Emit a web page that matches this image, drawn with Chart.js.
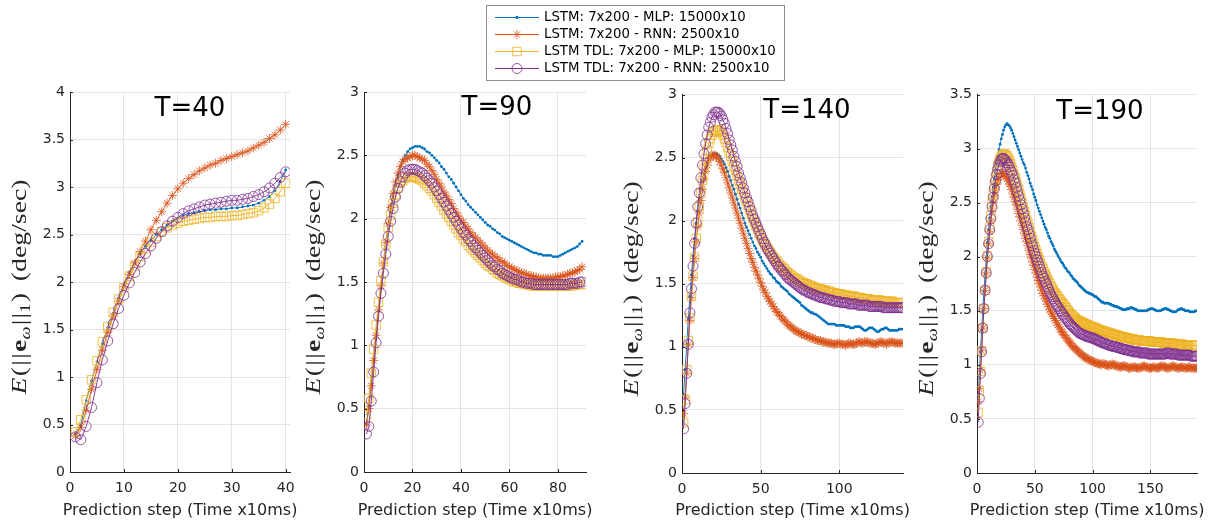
<!DOCTYPE html>
<html>
<head>
<meta charset="utf-8">
<script src="https://cdn.jsdelivr.net/npm/chart.js@4"></script>
<style>
  html, body { margin: 0; padding: 0; background: #ffffff; }
  #wrap { position: relative; width: 1216px; height: 521px; overflow: hidden; background: #ffffff; }
  #wrap canvas { position: absolute; left: 0; top: 0; }
</style>
</head>
<body>
<div id="wrap">
  <canvas id="p40" width="1216" height="521"></canvas>
  <canvas id="p90" width="1216" height="521"></canvas>
  <canvas id="p140" width="1216" height="521"></canvas>
  <canvas id="p190" width="1216" height="521"></canvas>
</div>
<script>
// ---- series names (legend) ----
const seriesNames = [
  'LSTM: 7x200 - MLP: 15000x10',
  'LSTM: 7x200 - RNN: 2500x10',
  'LSTM TDL: 7x200 - MLP: 15000x10',
  'LSTM TDL: 7x200 - RNN: 2500x10'
];
const panelTitles = ['T=40', 'T=90', 'T=140', 'T=190'];
const xAxisTitle = 'Prediction step (Time x10ms)';

// ---- T=40 (steps 1..40) ----
const mlp40 = [0.40,0.49,0.75,0.96,1.16,1.35,1.52,1.67,1.83,1.98,
  2.10,2.21,2.30,2.38,2.44,2.50,2.55,2.60,2.64,2.67,
  2.70,2.72,2.73,2.74,2.75,2.76,2.76,2.77,2.77,2.78,
  2.78,2.79,2.80,2.81,2.83,2.86,2.90,2.96,3.06,3.18];
const rnn40 = [0.38,0.47,0.65,0.87,1.08,1.28,1.47,1.64,1.80,1.95,
  2.08,2.20,2.32,2.43,2.55,2.65,2.74,2.83,2.91,2.98,
  3.04,3.09,3.13,3.17,3.20,3.23,3.25,3.28,3.30,3.32,
  3.34,3.36,3.38,3.41,3.44,3.47,3.51,3.55,3.60,3.66];
const tdlMlp40 = [0.42,0.55,0.76,0.97,1.17,1.37,1.53,1.68,1.82,1.94,
  2.06,2.17,2.27,2.35,2.42,2.48,2.53,2.57,2.60,2.62,
  2.64,2.65,2.66,2.67,2.68,2.68,2.69,2.69,2.69,2.70,
  2.70,2.71,2.72,2.73,2.75,2.78,2.82,2.88,2.95,3.04];
const tdlRnn40 = [0.37,0.34,0.48,0.68,0.94,1.18,1.38,1.56,1.72,1.86,
  1.99,2.10,2.21,2.30,2.38,2.46,2.53,2.59,2.64,2.68,
  2.72,2.75,2.77,2.79,2.81,2.82,2.83,2.84,2.85,2.86,
  2.86,2.87,2.88,2.90,2.92,2.95,2.99,3.04,3.10,3.16];

// ---- T=90 (steps 1..90) ----
const mlp90 = [0.38,0.52,0.70,0.89,1.08,1.27,1.45,1.62,1.78,1.92,
  2.05,2.16,2.26,2.34,2.41,2.46,2.50,2.53,2.55,2.56,
  2.57,2.57,2.57,2.56,2.55,2.53,2.52,2.50,2.48,2.46,
  2.44,2.41,2.39,2.36,2.33,2.31,2.28,2.25,2.22,2.19,
  2.16,2.14,2.11,2.09,2.07,2.05,2.03,2.01,1.99,1.97,
  1.95,1.94,1.92,1.91,1.89,1.88,1.86,1.85,1.84,1.83,
  1.82,1.81,1.80,1.79,1.78,1.77,1.76,1.75,1.74,1.73,
  1.73,1.72,1.72,1.71,1.71,1.71,1.71,1.70,1.70,1.70,
  1.71,1.72,1.73,1.74,1.75,1.76,1.77,1.78,1.80,1.82];
const rnn90 = [0.37,0.50,0.68,0.88,1.08,1.28,1.47,1.65,1.81,1.96,
  2.09,2.20,2.29,2.36,2.41,2.45,2.47,2.48,2.49,2.50,
  2.50,2.49,2.48,2.47,2.46,2.43,2.41,2.38,2.35,2.31,
  2.28,2.25,2.21,2.18,2.15,2.12,2.08,2.05,2.02,1.99,
  1.97,1.94,1.92,1.89,1.87,1.85,1.83,1.81,1.79,1.77,
  1.75,1.73,1.72,1.70,1.69,1.67,1.66,1.65,1.63,1.62,
  1.61,1.60,1.59,1.58,1.57,1.57,1.56,1.55,1.55,1.54,
  1.54,1.53,1.53,1.53,1.53,1.53,1.53,1.53,1.54,1.54,
  1.54,1.55,1.55,1.56,1.57,1.57,1.58,1.59,1.60,1.62];
const tdlMlp90 = [0.45,0.58,0.78,0.97,1.16,1.34,1.51,1.66,1.80,1.93,
  2.03,2.12,2.19,2.24,2.28,2.30,2.32,2.33,2.33,2.33,
  2.33,2.32,2.31,2.30,2.28,2.26,2.24,2.22,2.19,2.16,
  2.13,2.10,2.07,2.04,2.01,1.98,1.95,1.92,1.89,1.87,
  1.84,1.82,1.79,1.77,1.75,1.73,1.71,1.69,1.67,1.65,
  1.63,1.62,1.60,1.59,1.57,1.56,1.55,1.54,1.53,1.52,
  1.51,1.50,1.50,1.49,1.49,1.48,1.48,1.48,1.47,1.47,
  1.47,1.47,1.47,1.47,1.47,1.47,1.47,1.47,1.47,1.47,
  1.47,1.47,1.47,1.47,1.47,1.47,1.48,1.48,1.48,1.48];
const tdlRnn90 = [0.30,0.36,0.56,0.79,1.02,1.23,1.41,1.57,1.72,1.86,
  1.98,2.08,2.17,2.24,2.29,2.33,2.36,2.38,2.39,2.39,
  2.39,2.38,2.37,2.36,2.34,2.32,2.30,2.28,2.25,2.22,
  2.19,2.16,2.13,2.10,2.07,2.04,2.01,1.98,1.95,1.92,
  1.89,1.87,1.84,1.82,1.79,1.77,1.75,1.73,1.71,1.69,
  1.67,1.65,1.63,1.62,1.60,1.59,1.57,1.56,1.55,1.54,
  1.53,1.52,1.52,1.51,1.50,1.50,1.49,1.49,1.49,1.48,
  1.48,1.48,1.48,1.48,1.48,1.48,1.48,1.48,1.48,1.48,
  1.48,1.48,1.48,1.48,1.49,1.49,1.49,1.49,1.50,1.50];

// ---- T=140 (steps 1..140) ----
const mlp140 = [0.62,0.82,1.02,1.22,1.40,1.57,1.72,1.86,1.98,2.08,
  2.17,2.25,2.32,2.38,2.42,2.46,2.49,2.51,2.52,2.53,
  2.53,2.53,2.52,2.51,2.49,2.47,2.45,2.42,2.39,2.35,
  2.32,2.28,2.25,2.21,2.17,2.13,2.10,2.06,2.02,1.98,
  1.95,1.92,1.89,1.86,1.83,1.80,1.78,1.75,1.73,1.71,
  1.68,1.66,1.64,1.62,1.60,1.58,1.57,1.55,1.54,1.52,
  1.51,1.50,1.48,1.47,1.46,1.45,1.44,1.42,1.41,1.40,
  1.39,1.38,1.37,1.36,1.35,1.33,1.32,1.31,1.30,1.29,
  1.28,1.27,1.27,1.26,1.26,1.25,1.24,1.23,1.22,1.21,
  1.20,1.19,1.18,1.18,1.18,1.18,1.18,1.17,1.17,1.17,
  1.17,1.17,1.17,1.16,1.16,1.16,1.15,1.15,1.15,1.16,
  1.16,1.16,1.16,1.15,1.14,1.13,1.13,1.14,1.15,1.15,
  1.15,1.14,1.13,1.12,1.12,1.13,1.14,1.14,1.15,1.15,
  1.14,1.13,1.13,1.13,1.13,1.13,1.13,1.14,1.14,1.14];
const rnn140 = [0.47,0.60,0.79,1.02,1.21,1.39,1.55,1.70,1.83,1.95,
  2.06,2.16,2.25,2.33,2.39,2.44,2.48,2.50,2.52,2.52,
  2.52,2.51,2.49,2.47,2.44,2.41,2.38,2.34,2.30,2.26,
  2.22,2.18,2.14,2.10,2.06,2.02,1.98,1.94,1.90,1.86,
  1.82,1.78,1.74,1.70,1.67,1.63,1.60,1.57,1.54,1.51,
  1.48,1.45,1.43,1.40,1.38,1.36,1.34,1.32,1.30,1.28,
  1.27,1.25,1.24,1.22,1.21,1.20,1.18,1.17,1.16,1.15,
  1.14,1.13,1.12,1.12,1.11,1.10,1.10,1.09,1.09,1.08,
  1.08,1.07,1.07,1.06,1.06,1.05,1.05,1.05,1.04,1.04,
  1.04,1.03,1.03,1.03,1.03,1.02,1.02,1.02,1.03,1.03,
  1.02,1.02,1.02,1.01,1.02,1.03,1.03,1.02,1.02,1.02,
  1.03,1.04,1.04,1.03,1.03,1.04,1.04,1.04,1.03,1.03,
  1.03,1.02,1.02,1.03,1.03,1.04,1.04,1.03,1.03,1.02,
  1.03,1.04,1.04,1.04,1.03,1.03,1.03,1.03,1.03,1.03];
const tdlMlp140 = [0.40,0.58,0.82,1.05,1.23,1.40,1.56,1.71,1.86,1.99,
  2.11,2.22,2.32,2.41,2.49,2.56,2.61,2.65,2.68,2.70,
  2.71,2.72,2.72,2.71,2.70,2.68,2.65,2.62,2.58,2.54,
  2.51,2.47,2.43,2.40,2.36,2.32,2.29,2.25,2.22,2.18,
  2.15,2.12,2.08,2.05,2.02,1.99,1.96,1.93,1.90,1.88,
  1.85,1.83,1.81,1.79,1.77,1.75,1.73,1.71,1.70,1.68,
  1.67,1.65,1.64,1.63,1.62,1.60,1.59,1.58,1.57,1.56,
  1.55,1.54,1.54,1.53,1.52,1.51,1.51,1.50,1.50,1.49,
  1.49,1.48,1.48,1.47,1.47,1.46,1.46,1.46,1.45,1.45,
  1.45,1.44,1.44,1.44,1.43,1.43,1.43,1.42,1.42,1.42,
  1.42,1.41,1.41,1.41,1.41,1.40,1.40,1.40,1.40,1.40,
  1.39,1.39,1.39,1.39,1.38,1.38,1.38,1.38,1.38,1.37,
  1.37,1.37,1.37,1.37,1.37,1.37,1.36,1.36,1.36,1.36,
  1.36,1.36,1.36,1.36,1.35,1.35,1.35,1.35,1.35,1.35];
const tdlRnn140 = [0.35,0.55,0.79,1.02,1.27,1.46,1.64,1.82,1.98,2.11,
  2.22,2.34,2.44,2.53,2.61,2.68,2.74,2.78,2.82,2.84,
  2.86,2.86,2.86,2.85,2.83,2.80,2.77,2.73,2.69,2.64,
  2.60,2.56,2.51,2.47,2.43,2.38,2.34,2.30,2.26,2.22,
  2.18,2.15,2.11,2.08,2.04,2.01,1.98,1.95,1.92,1.89,
  1.86,1.83,1.81,1.78,1.76,1.74,1.72,1.70,1.68,1.66,
  1.64,1.63,1.61,1.60,1.58,1.57,1.55,1.54,1.53,1.52,
  1.51,1.50,1.49,1.48,1.47,1.46,1.45,1.45,1.44,1.43,
  1.43,1.42,1.42,1.41,1.41,1.40,1.40,1.39,1.39,1.39,
  1.38,1.38,1.38,1.37,1.37,1.37,1.36,1.36,1.36,1.36,
  1.35,1.35,1.35,1.35,1.35,1.34,1.34,1.34,1.34,1.34,
  1.34,1.33,1.33,1.33,1.33,1.33,1.33,1.33,1.32,1.32,
  1.32,1.32,1.32,1.32,1.32,1.32,1.32,1.31,1.31,1.31,
  1.31,1.31,1.31,1.31,1.31,1.31,1.31,1.31,1.31,1.31];

// ---- T=190 (steps 1..190) ----
const mlp190 = [0.68,0.90,1.12,1.32,1.50,1.68,1.84,1.99,2.13,2.25,
  2.36,2.46,2.55,2.64,2.72,2.80,2.87,2.93,2.99,3.04,
  3.09,3.13,3.17,3.20,3.22,3.23,3.22,3.21,3.19,3.17,
  3.14,3.11,3.08,3.05,3.02,2.99,2.96,2.93,2.90,2.87,
  2.85,2.82,2.78,2.75,2.72,2.68,2.65,2.62,2.58,2.55,
  2.52,2.48,2.45,2.42,2.39,2.36,2.33,2.30,2.27,2.25,
  2.22,2.19,2.17,2.14,2.12,2.10,2.07,2.05,2.03,2.01,
  1.99,1.97,1.95,1.94,1.92,1.90,1.89,1.87,1.86,1.85,
  1.83,1.82,1.80,1.79,1.78,1.77,1.76,1.74,1.73,1.72,
  1.71,1.70,1.69,1.68,1.67,1.67,1.66,1.66,1.65,1.65,
  1.64,1.63,1.63,1.62,1.61,1.60,1.59,1.58,1.58,1.57,
  1.57,1.57,1.57,1.57,1.56,1.56,1.55,1.55,1.54,1.54,
  1.54,1.53,1.53,1.52,1.52,1.51,1.51,1.51,1.51,1.52,
  1.52,1.52,1.53,1.53,1.52,1.52,1.51,1.51,1.50,1.50,
  1.50,1.50,1.50,1.50,1.50,1.50,1.50,1.51,1.51,1.52,
  1.52,1.52,1.51,1.51,1.50,1.50,1.50,1.50,1.50,1.51,
  1.51,1.52,1.52,1.52,1.51,1.51,1.50,1.50,1.49,1.49,
  1.49,1.49,1.50,1.51,1.51,1.52,1.52,1.51,1.51,1.50,
  1.50,1.50,1.50,1.49,1.49,1.49,1.49,1.49,1.50,1.50];
const rnn190 = [0.66,0.78,0.95,1.13,1.34,1.52,1.69,1.85,1.99,2.12,
  2.23,2.33,2.42,2.50,2.57,2.62,2.67,2.71,2.74,2.76,
  2.77,2.77,2.77,2.76,2.74,2.72,2.70,2.67,2.65,2.62,
  2.58,2.55,2.51,2.48,2.44,2.40,2.37,2.33,2.29,2.25,
  2.21,2.17,2.14,2.10,2.06,2.02,1.99,1.95,1.92,1.88,
  1.85,1.81,1.78,1.75,1.72,1.69,1.66,1.64,1.61,1.59,
  1.56,1.54,1.51,1.49,1.47,1.45,1.43,1.41,1.39,1.37,
  1.35,1.33,1.31,1.30,1.28,1.27,1.25,1.24,1.22,1.21,
  1.20,1.18,1.17,1.16,1.15,1.14,1.13,1.12,1.11,1.10,
  1.09,1.08,1.07,1.07,1.06,1.05,1.05,1.04,1.04,1.03,
  1.03,1.02,1.02,1.01,1.01,1.01,1.00,1.01,1.01,1.01,
  1.00,1.00,0.99,0.99,1.00,1.00,1.01,1.00,1.00,0.99,
  0.99,0.99,0.98,0.98,0.98,0.99,0.99,0.99,0.98,0.98,
  0.97,0.97,0.97,0.98,0.98,0.98,0.98,0.97,0.97,0.97,
  0.97,0.98,0.98,0.99,0.99,0.98,0.98,0.97,0.97,0.97,
  0.97,0.98,0.98,0.98,0.97,0.97,0.97,0.98,0.99,0.99,
  0.99,0.98,0.98,0.97,0.97,0.97,0.98,0.98,0.99,0.99,
  0.98,0.98,0.97,0.97,0.97,0.98,0.98,0.98,0.97,0.97,
  0.97,0.97,0.98,0.98,0.97,0.97,0.97,0.97,0.97,0.97];
const tdlMlp190 = [0.56,0.76,0.94,1.13,1.34,1.52,1.69,1.86,2.01,2.14,
  2.27,2.38,2.49,2.58,2.66,2.73,2.79,2.84,2.88,2.91,
  2.93,2.94,2.95,2.95,2.94,2.93,2.91,2.89,2.86,2.83,
  2.80,2.76,2.73,2.69,2.65,2.62,2.58,2.54,2.50,2.46,
  2.42,2.38,2.34,2.31,2.27,2.23,2.19,2.16,2.12,2.09,
  2.06,2.03,2.00,1.97,1.94,1.91,1.89,1.86,1.84,1.82,
  1.79,1.77,1.75,1.73,1.71,1.69,1.67,1.66,1.64,1.63,
  1.61,1.60,1.58,1.57,1.56,1.54,1.53,1.51,1.50,1.48,
  1.47,1.46,1.45,1.44,1.43,1.42,1.41,1.41,1.40,1.40,
  1.39,1.39,1.38,1.38,1.37,1.37,1.36,1.36,1.35,1.35,
  1.35,1.34,1.34,1.33,1.33,1.32,1.32,1.32,1.31,1.31,
  1.31,1.30,1.30,1.30,1.29,1.29,1.29,1.28,1.28,1.28,
  1.27,1.27,1.27,1.26,1.26,1.26,1.26,1.25,1.25,1.25,
  1.25,1.24,1.24,1.24,1.24,1.23,1.23,1.23,1.23,1.23,
  1.23,1.22,1.22,1.22,1.22,1.22,1.22,1.22,1.22,1.22,
  1.21,1.21,1.21,1.21,1.21,1.21,1.21,1.21,1.21,1.21,
  1.20,1.20,1.20,1.20,1.20,1.20,1.20,1.20,1.20,1.20,
  1.19,1.19,1.19,1.19,1.19,1.19,1.19,1.19,1.18,1.18,
  1.18,1.18,1.18,1.18,1.18,1.18,1.18,1.18,1.18,1.18];
const tdlRnn190 = [0.47,0.69,0.92,1.12,1.34,1.52,1.69,1.85,2.00,2.12,
  2.25,2.35,2.46,2.55,2.63,2.70,2.76,2.81,2.85,2.88,
  2.90,2.91,2.91,2.90,2.89,2.87,2.85,2.83,2.80,2.78,
  2.75,2.71,2.68,2.64,2.60,2.56,2.52,2.48,2.44,2.40,
  2.36,2.32,2.28,2.25,2.21,2.17,2.13,2.10,2.06,2.03,
  2.00,1.97,1.94,1.91,1.88,1.85,1.82,1.80,1.77,1.75,
  1.72,1.70,1.67,1.65,1.63,1.61,1.59,1.57,1.55,1.54,
  1.52,1.50,1.49,1.47,1.46,1.44,1.43,1.41,1.40,1.38,
  1.37,1.36,1.35,1.34,1.33,1.32,1.31,1.30,1.29,1.29,
  1.28,1.28,1.27,1.27,1.26,1.26,1.26,1.25,1.25,1.25,
  1.24,1.24,1.23,1.23,1.22,1.22,1.21,1.21,1.20,1.20,
  1.20,1.19,1.19,1.18,1.18,1.18,1.17,1.17,1.17,1.17,
  1.16,1.16,1.16,1.15,1.15,1.15,1.14,1.14,1.14,1.14,
  1.13,1.13,1.13,1.13,1.12,1.12,1.12,1.12,1.12,1.12,
  1.11,1.11,1.11,1.11,1.11,1.11,1.11,1.10,1.10,1.10,
  1.10,1.10,1.10,1.10,1.10,1.10,1.10,1.10,1.10,1.10,
  1.10,1.10,1.10,1.11,1.11,1.11,1.10,1.10,1.10,1.10,
  1.10,1.10,1.10,1.09,1.09,1.09,1.09,1.09,1.09,1.09,
  1.09,1.09,1.09,1.09,1.08,1.08,1.08,1.08,1.08,1.08];

// ---- axis ranges and ticks per panel ----
const yMaxes = [4, 3, 3, 3.5];
const xMaxes = [40.8, 91.6, 140.5, 190.3];
const xSteps = [10, 20, 50, 50];

// ---- styling / layout ----
const W = 1216, H = 521;
const COLORS = ['#0072BD', '#D95319', '#EDB120', '#7E2F8E'];
const TEXT = '#262626';
const GRID = '#e4e4e4';
const FONT = '"DejaVu Sans", "Noto Sans", sans-serif';
const SERIF = '"Liberation Serif", "DejaVu Serif", serif';
const Y_AXIS_W = 40;
const X_AXIS_H = 40;
const Y_LABEL_LEN = 215;   // length of the rotated y-axis label along the axis

const boxes = [
  { left: 70,  top: 92,   right: 290,  bottom: 472 },
  { left: 364, top: 92,   right: 586,  bottom: 472 },
  { left: 682, top: 94.5, right: 903,  bottom: 473 },
  { left: 977, top: 94.5, right: 1197, bottom: 473 }
];
const titleAnchors = [
  { x: 190, y: 116 },
  { x: 497, y: 115 },
  { x: 807, y: 118 },
  { x: 1100, y: 119 }
];

function pointStyleFor(i) {
  return [
    { pointStyle: 'circle', pointRadius: 1.4, pointBackgroundColor: COLORS[0], pointBorderWidth: 0 },
    { pointStyle: 'star',   pointRadius: 4.5, pointBackgroundColor: 'transparent', pointBorderWidth: 0.8 },
    { pointStyle: 'rect',   pointRadius: 6,   pointBackgroundColor: 'transparent', pointBorderWidth: 0.8 },
    { pointStyle: 'circle', pointRadius: 5,   pointBackgroundColor: 'transparent', pointBorderWidth: 0.8 }
  ][i];
}

function makeDatasets(arrs) {
  return arrs.map((arr, i) => Object.assign({
    label: seriesNames[i],
    data: arr.map((v, k) => ({ x: k + 1, y: v })),
    borderColor: COLORS[i],
    pointBorderColor: COLORS[i],
    borderWidth: 0.9,
    tension: 0,
    fill: false,
    order: 3 - i
  }, pointStyleFor(i)));
}

// y-axis label: E(||e_w||_1) (deg/sec), set in a math-like serif style
function drawYLabel(ctx, x, cy) {
  const s = 21;
  const sub = 14;
  const parts = [
    { t: 'E', f: `italic ${s}px ${SERIF}`, gap: 1 },
    { t: '(', f: `${s}px ${SERIF}`, gap: 1 },
    { t: '|', f: `${s}px ${SERIF}`, gap: 1 },
    { t: '|', f: `${s}px ${SERIF}`, gap: 1 },
    { t: 'e', f: `bold ${s}px ${SERIF}` },
    { t: 'ω', f: `italic ${sub}px ${SERIF}`, dy: 4, gap: 1 },
    { t: '|', f: `${s}px ${SERIF}`, gap: 1 },
    { t: '|', f: `${s}px ${SERIF}` },
    { t: '1', f: `${sub}px ${SERIF}`, dy: 4, gap: 1 },
    { t: ')', f: `${s}px ${SERIF}`, gap: 9 },
    { t: '(deg/sec)', f: `${s}px ${SERIF}` }
  ];
  ctx.save();
  let total = 0;
  parts.forEach(p => { ctx.font = p.f; p.w = ctx.measureText(p.t).width + (p.gap || 0); total += p.w; });
  const k = Y_LABEL_LEN / total;
  ctx.translate(x, cy);
  ctx.rotate(-Math.PI / 2);
  ctx.scale(k, 1);
  ctx.fillStyle = TEXT;
  ctx.textBaseline = 'alphabetic';
  ctx.textAlign = 'left';
  let cx = -total / 2;
  parts.forEach(p => { ctx.font = p.f; ctx.fillText(p.t, cx, p.dy || 0); cx += p.w; });
  ctx.restore();
}

const decorPlugin = {
  id: 'decor',
  afterDraw(chart, args, opts) {
    const ctx = chart.ctx;
    const a = chart.chartArea;
    const xs = chart.scales.x, ys = chart.scales.y;
    ctx.save();
    // inward tick marks
    ctx.strokeStyle = TEXT;
    ctx.lineWidth = 1;
    ctx.beginPath();
    xs.ticks.forEach(t => {
      const px = Math.round(xs.getPixelForValue(t.value)) + 0.5;
      ctx.moveTo(px, a.bottom); ctx.lineTo(px, a.bottom - 3);
    });
    ys.ticks.forEach(t => {
      const py = Math.round(ys.getPixelForValue(t.value)) + 0.5;
      ctx.moveTo(a.left, py); ctx.lineTo(a.left + 3, py);
    });
    ctx.stroke();
    // panel title
    ctx.fillStyle = '#000000';
    ctx.font = `26px ${FONT}`;
    ctx.textAlign = 'center';
    ctx.textBaseline = 'alphabetic';
    ctx.fillText(opts.title, opts.titleX, opts.titleY);
    // x-axis title
    ctx.fillStyle = TEXT;
    ctx.font = `16px ${FONT}`;
    ctx.fillText(xAxisTitle, (a.left + a.right) / 2, 515);
    ctx.restore();
    // y-axis title
    drawYLabel(ctx, a.left - 44, (a.top + a.bottom) / 2 + 5);
  }
};

// legend box shared by all panels
const legendPlugin = {
  id: 'figLegend',
  afterDraw(chart, args, opts) {
    if (!opts.show) return;
    const ctx = chart.ctx;
    const bx = 486.5, by = 5.5, bw = 298, bh = 75;
    ctx.save();
    ctx.fillStyle = '#ffffff';
    ctx.fillRect(bx, by, bw, bh);
    ctx.strokeStyle = '#8c8c8c';
    ctx.lineWidth = 1;
    ctx.strokeRect(bx, by, bw, bh);
    const rows = [17, 34, 51, 68];
    chart.data.datasets.forEach((ds, i) => {
      const y = rows[i];
      ctx.strokeStyle = ds.borderColor;
      ctx.lineWidth = 1;
      ctx.beginPath();
      ctx.moveTo(495, y + 0.5); ctx.lineTo(539, y + 0.5);
      ctx.stroke();
      ctx.lineWidth = ds.pointBorderWidth || 1;
      ctx.fillStyle = ds.pointBackgroundColor;
      Chart.helpers.drawPoint(ctx, {
        pointStyle: ds.pointStyle,
        radius: ds.pointRadius,
        borderWidth: ds.pointBorderWidth,
        rotation: 0
      }, 517, y + 0.5);
      if (ds.pointBackgroundColor !== 'transparent') ctx.fill();
      ctx.fillStyle = '#000000';
      ctx.font = `13.3px ${FONT}`;
      ctx.textAlign = 'left';
      ctx.textBaseline = 'middle';
      ctx.fillText(seriesNames[i], 544, y + 1);
    });
    ctx.restore();
  }
};

const panelData = [
  [mlp40, rnn40, tdlMlp40, tdlRnn40],
  [mlp90, rnn90, tdlMlp90, tdlRnn90],
  [mlp140, rnn140, tdlMlp140, tdlRnn140],
  [mlp190, rnn190, tdlMlp190, tdlRnn190]
];
const canvasIds = ['p40', 'p90', 'p140', 'p190'];

canvasIds.forEach((id, p) => {
  const b = boxes[p];
  new Chart(document.getElementById(id), {
    type: 'line',
    data: { datasets: makeDatasets(panelData[p]) },
    options: {
      responsive: false,
      animation: false,
      devicePixelRatio: 1,
      events: [],
      layout: {
        padding: {
          left: b.left - Y_AXIS_W,
          right: W - b.right,
          top: b.top,
          bottom: H - b.bottom - X_AXIS_H
        }
      },
      scales: {
        x: {
          type: 'linear',
          min: 0,
          max: xMaxes[p],
          afterFit: s => { s.height = X_AXIS_H; },
          border: { display: true, color: TEXT, width: 1 },
          grid: { color: GRID, lineWidth: 1, drawTicks: false },
          ticks: {
            stepSize: xSteps[p],
            includeBounds: false,
            autoSkip: false,
            maxRotation: 0,
            padding: 8,
            color: TEXT,
            font: { family: FONT, size: 14 },
            callback: v => String(v)
          }
        },
        y: {
          type: 'linear',
          min: 0,
          max: yMaxes[p],
          afterFit: s => { s.width = Y_AXIS_W; },
          border: { display: true, color: TEXT, width: 1 },
          grid: { color: GRID, lineWidth: 1, drawTicks: false },
          ticks: {
            stepSize: 0.5,
            includeBounds: false,
            autoSkip: false,
            padding: 5,
            color: TEXT,
            font: { family: FONT, size: 14 },
            callback: v => String(v)
          }
        }
      },
      plugins: {
        legend: { display: false },
        tooltip: { enabled: false },
        decor: { title: panelTitles[p], titleX: titleAnchors[p].x, titleY: titleAnchors[p].y },
        figLegend: { show: p === 0 }
      }
    },
    plugins: [decorPlugin, legendPlugin]
  });
});
</script>
</body>
</html>
